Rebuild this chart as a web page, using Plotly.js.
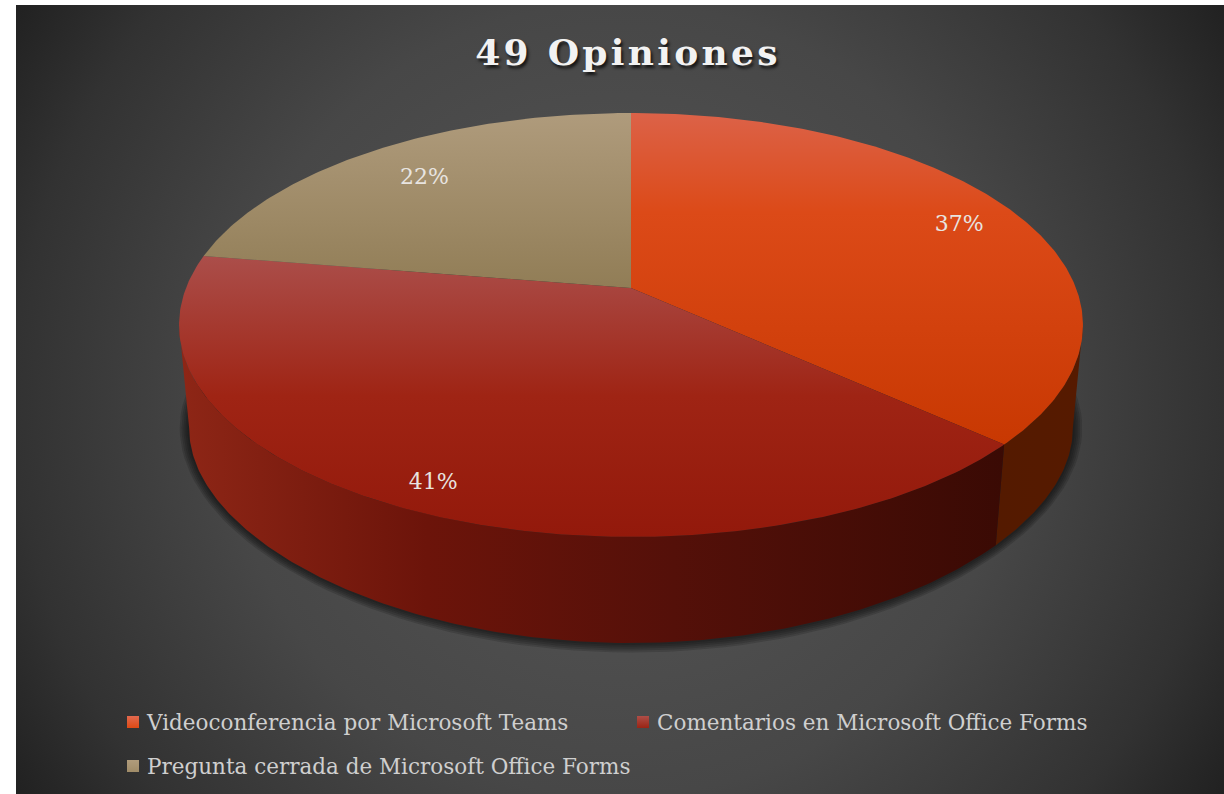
<!DOCTYPE html>
<html>
<head>
<meta charset="utf-8">
<script src="https://cdn.plot.ly/plotly-3.0.1.min.js"></script>
<style>
html,body{margin:0;padding:0;background:#fff;width:1224px;height:794px;overflow:hidden}
#bg{position:absolute;left:16px;top:5px;width:1208px;height:789px;
background:radial-gradient(circle farthest-corner at 50% 50%,#585858 0%,#474747 55%,#323232 84%,#212121 100%)}
#chart{position:absolute;left:0;top:0;width:1224px;height:794px}
.gtitle{letter-spacing:3.3px}
</style>
</head>
<body>
<div id="bg"></div>
<div id="chart"></div>
<script>
// ---- data ----
const chartTitle = '49 Opiniones';
const categories = ['Videoconferencia por Microsoft Teams','Comentarios en Microsoft Office Forms','Pregunta cerrada de Microsoft Office Forms'];
const values = [18, 20, 11];

// ---- styles ----
// listed bottom-to-top: the y axis runs downward in pixels, so stop 0 is the lower edge of each face
const topScales = [
  [[0,'#C83802'],[0.7,'#DC4A18'],[1,'#DC6248']],
  [[0,'#93190B'],[0.5,'#9F2414'],[1,'#AB4E4A']],
  [[0,'#917D56'],[1,'#AF9B7C']]
];
const sideScales = [
  [[0,'#541A00'],[1,'#561A00']],
  [[0,'#8E2616'],[0.3,'#6C140A'],[0.6,'#541009'],[1,'#3A0A04']]
];
const legendColors = ['#DE4A14','#9A2414','#A08C68'];
const legendTops = ['#E2694F','#AE4E48','#B09C7C'];
const labelRadii = [0.85, 0.89, 0.8];

// ---- perspective model of the tilted disc, mapped on pixel-like axes ----
const CX = 631, APEX = 288;
const topDisc = (u,v)=>{const w=1-0.1745*v;return [CX+445*u/w, APEX+205.5*v/w];};
const botDisc = (u,v)=>{return [CX+435*u/(1-0.1745*v), 395+185.5*v/(1-0.252*v)];};
const polar = (disc,deg,r=1)=>{const a=deg*Math.PI/180;return disc(r*Math.sin(a),-r*Math.cos(a));};
const arc = (disc,a0,a1)=>{const n=Math.max(2,Math.ceil(Math.abs(a1-a0)*1.5)),o=[];
  for(let i=0;i<=n;i++)o.push(polar(disc,a0+(a1-a0)*i/n));return o;};
const total = values.reduce((s,v)=>s+v,0);
const edges = [0]; values.forEach(v=>edges.push(edges[edges.length-1]+v/total*360));
const SIL_R = 100, SIL_L = 260;

const traces = [];
const poly = (pts,extra)=>traces.push(Object.assign({type:'scatter',mode:'lines',x:pts.map(p=>p[0]),y:pts.map(p=>p[1]),
  fill:'toself',line:{width:0},hoverinfo:'skip',showlegend:false},extra));

// soft shadow beneath the disc
for(let i=5;i>=1;i--){
  const g=i*1.9, pts=[];
  for(let d=0;d<=360;d+=2){const p=polar(botDisc,d);
    pts.push([CX+(p[0]-CX)*(1+g/442), 445+(p[1]-445)*(1+g/198)]);}
  poly(pts,{fillcolor:'rgba(10,10,10,0.17)'});
}
// side walls
const sideSpans=[[SIL_R,edges[1]],[edges[1],SIL_L]];
sideSpans.forEach((s,i)=>{
  const pts=arc(topDisc,s[0],s[1]).concat(arc(botDisc,s[1],s[0]));
  pts.push(pts[0]);
  poly(pts,{fillgradient:{type:'horizontal',colorscale:sideScales[i]}});
});
// top faces
values.forEach((v,i)=>{
  const pts=[topDisc(0,0)].concat(arc(topDisc,edges[i],edges[i+1]));
  pts.push(pts[0]);
  poly(pts,{fillgradient:{type:'vertical',colorscale:topScales[i]}});
});
// percent labels
const labelPts=values.map((v,i)=>polar(topDisc,(edges[i]+edges[i+1])/2,labelRadii[i]));
traces.push({type:'scatter',mode:'text',x:labelPts.map(p=>p[0]+2),y:labelPts.map(p=>p[1]+4),
  text:values.map(v=>Math.round(v/total*100)+'%'),textposition:'middle center',
  textfont:{family:'"DejaVu Serif",serif',size:22,color:'#E8E4E0'},hoverinfo:'skip',showlegend:false});
// legend entries
categories.forEach((c,i)=>traces.push({type:'scatter',mode:'markers',x:[null],y:[null],name:c,
  legend:i===0?'legend':'legend'+(i+1),showlegend:true,hoverinfo:'skip',
  marker:{symbol:'square',size:12,color:legendTops[i],gradient:{type:'vertical',color:legendColors[i]}}}));

const legendFont={family:'"DejaVu Serif",serif',size:21.5,color:'#CFCFCF'};
const leg=(xp,yp)=>({x:xp/1224,y:1-yp/794,xanchor:'left',yanchor:'middle',orientation:'v',bgcolor:'rgba(0,0,0,0)',font:legendFont,itemclick:false,itemdoubleclick:false,borderwidth:0});
const layout={
  width:1224,height:794,margin:{l:0,r:0,t:0,b:0,pad:0},autosize:false,
  paper_bgcolor:'rgba(0,0,0,0)',plot_bgcolor:'rgba(0,0,0,0)',
  title:{text:'<b>'+chartTitle+'</b>',x:628/1224,xanchor:'center',y:1-52/794,yanchor:'middle',
    font:{family:'"DejaVu Serif",serif',size:36,color:'#F2F2F2',shadow:'2px 3px 3px rgba(0,0,0,0.7)'}},
  xaxis:{range:[0,1224],visible:false,fixedrange:true},
  yaxis:{range:[794,0],visible:false,fixedrange:true},
  showlegend:true,
  legend:leg(107,722),legend2:leg(617,722),legend3:leg(107,766),
  hovermode:false
};
Plotly.newPlot('chart',traces,layout,{displayModeBar:false,staticPlot:true}).then(()=>{
  document.querySelectorAll('.legendsymbols').forEach(n=>n.setAttribute('transform','translate(6,0)'));
});
</script>
</body>
</html>
